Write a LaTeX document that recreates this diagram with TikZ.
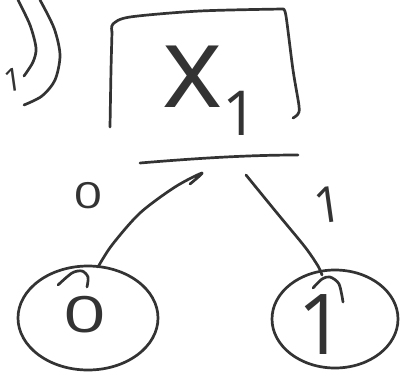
\documentclass[tikz,border=0pt]{standalone}
\usepackage{fontspec}
\setmainfont{Open Sans}
\usetikzlibrary{shapes.geometric}
\definecolor{inkc}{HTML}{333333}
\tikzset{
  ink/.style={draw=inkc, line width=2.7pt, line cap=round, line join=round},
  hand/.style={text=inkc, inner sep=0pt, outer sep=0pt},
}
\begin{document}
\begin{tikzpicture}[x=1pt,y=-1pt]
\useasboundingbox (0,0) rectangle (403,375);
% arcs at top left
\draw[ink] plot[smooth] coordinates {(18,0) (30,25) (36,48) (33,62) (24,76)};
\draw[ink] plot[smooth] coordinates {(40,0) (54,28) (60,55) (55,80) (42,96) (24,105)};
\node[hand, font=\fontsize{32}{32}\selectfont, rotate=8] (t1) at (13,80) {1};
% box
\draw[ink] plot[smooth] coordinates {(110,127) (111,70) (112,32)} ;
\draw[ink] plot[smooth] coordinates {(112,32) (113,24) (130,17) (200,11) (283,9)};
\draw[ink] plot[smooth] coordinates {(283,9) (286,16) (293,70) (299,106) (298,114) (293,118)};
\node[hand, anchor=base west, font=\fontsize{115}{115}\selectfont] (x1) at (162,107) {x\raisebox{-28pt}{\fontsize{62}{62}\selectfont 1}};
% split line
\coordinate (sl) at (140,163);
\coordinate (sr) at (298,155);
\draw[ink] (sl) .. controls (200,158) and (250,155) .. (sr);
% circles
\node[ink, ellipse, minimum width=140pt, minimum height=104pt, inner sep=0pt] (c0) at (88,318) {};
\node[ink, ellipse, minimum width=126pt, minimum height=98pt, inner sep=0pt] (c1) at (335,319) {};
\node[hand, font=\fontsize{50}{50}\selectfont] (d0) at (85,315) {\scalebox{1.5}[1]{0}};
\node[hand, font=\fontsize{84}{84}\selectfont] (d1) at (322,325) {1};
% branches
\coordinate (bl) at (202,173);
\coordinate (br) at (246,175);
\draw[ink] plot[smooth] coordinates {(190,184) (202,173) (175,187) (140,213) (112,245) (98,267)};
\draw[ink] plot[smooth] coordinates {(58,285) (72,273) (82,271) (88,277) (87,287)};
\draw[ink] plot[smooth] coordinates {(246,175) (277,213) (305,247) (318,266) (322,275)};
\draw[ink] plot[smooth] coordinates {(313,288) (322,279) (330,277) (339,284) (343,302)};
% edge labels
\node[hand, font=\fontsize{36}{36}\selectfont] (l0) at (88,196) {\scalebox{1.4}[1]{0}};
\node[hand, font=\fontsize{50}{50}\selectfont, rotate=8] (l1) at (328,205) {1};
\end{tikzpicture}
\end{document}
